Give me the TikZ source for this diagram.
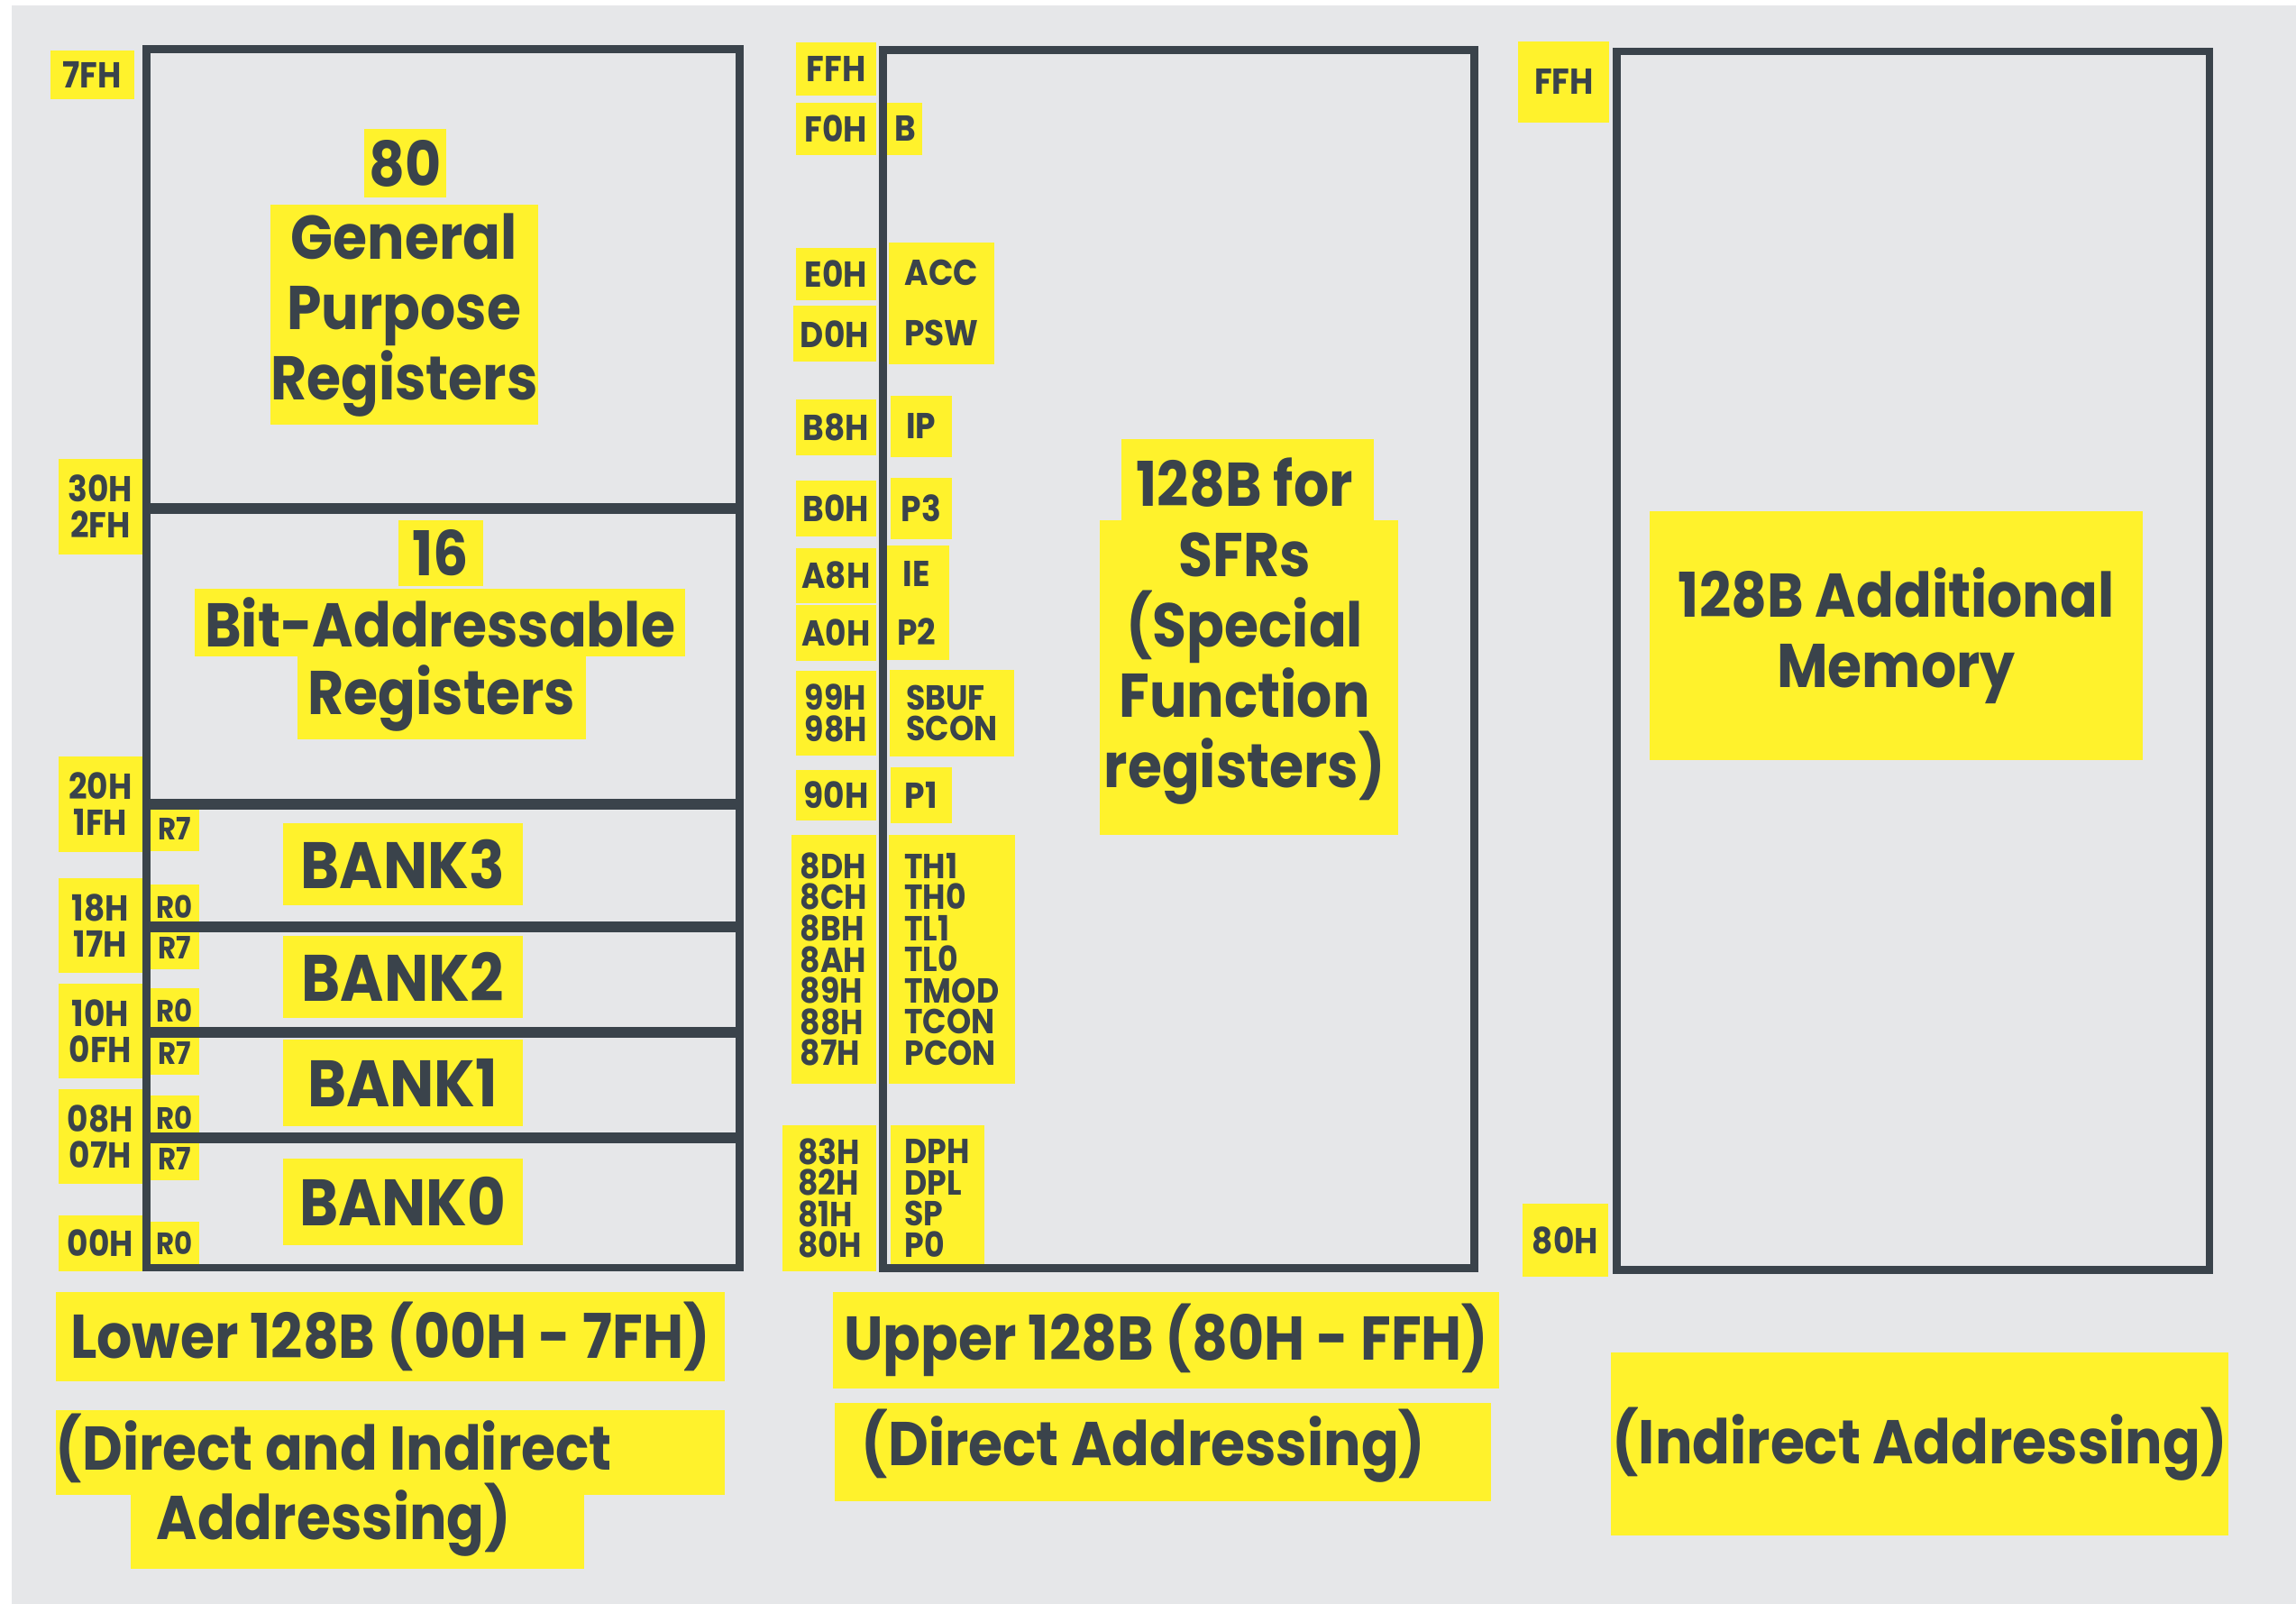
\documentclass[tikz,border=0pt]{standalone}
\usepackage{fontspec}
\setmainfont{Poppins}[FakeStretch=0.9]
\usetikzlibrary{positioning}
\definecolor{slate}{HTML}{3A434B}
\definecolor{hiyel}{HTML}{FFF22C}
\definecolor{paper}{HTML}{E6E7E9}

\begin{document}
\begin{tikzpicture}[x=0.02cm,y=-0.02cm,
  every node/.style={text=slate},
  sz/.style 2 args={minimum width=#1*0.02cm,minimum height=#2*0.02cm},
  hl/.style={fill=hiyel,inner sep=0pt,align=center},
  bigtxt/.style={inner sep=0pt,align=center,font=\fontsize{24}{27.3}\selectfont\bfseries},
  big/.style={hl,bigtxt},
  bank/.style={hl,font=\fontsize{25.5}{28}\selectfont\bfseries},
  hex/.style={hl,font=\fontsize{14}{14}\selectfont\bfseries},
  stack/.style={hl,align=left,font=\fontsize{13.5}{12.1}\selectfont\bfseries},
  reg/.style={hl,font=\fontsize{12}{12}\selectfont\bfseries},
  membox/.style={draw=slate,line width=3pt},
  split/.style={draw=slate,line width=4.2pt}]
 \fill[white] (0,0) rectangle (1568,1095);
 \fill[paper] (8,4) rectangle (1568,1095);

 % lower 128 bytes
 \node[hex,sz={57}{33}] (l7f) at (63,51) {7FH};
 \node[hex,sz={57}{65}] (l30) at (68.5,346) {30H\\2FH};
 \node[hex,sz={57}{65}] (l20) at (68.5,549) {20H\\1FH};
 \node[hex,sz={57}{65}] (l18) at (68.5,632) {18H\\17H};
 \node[hex,sz={57}{65}] (l10) at (68.5,704) {10H\\0FH};
 \node[hex,sz={57}{65}] (l08) at (68.5,776) {08H\\07H};
 \node[hex,sz={57}{38}] (l00) at (68.5,849) {00H};
 \foreach \y [count=\i] in {566,647,719,791}
   \node[reg,sz={34}{30}] (rs\i) at (119,\y) {R7};
 \foreach \y [count=\i] in {619,690,763,849}
   \node[reg,sz={34}{30}] (rz\i) at (119,\y) {R0};
 \node[big,sz={56}{47}] (n80) at (277,111.5) {80};
 \node[big,sz={172}{150}] (gpr) at (276,215) {General\\Purpose\\Registers};
 \node[big,sz={58}{45}] (n16) at (301,377.5) {16};
 \node[big,sz={335}{46}] (bitad) at (300.5,425) {Bit-Addressable};
 \node[big,sz={197}{57}] (bitreg) at (301.5,476.5) {Registers};
 \node[bank,sz={164}{56}] (bank3) at (275,590) {BANK3};
 \node[bank,sz={164}{56}] (bank2) at (275,667) {BANK2};
 \node[bank,sz={164}{59}] (bank1) at (275,739.5) {BANK1};
 \node[bank,sz={164}{59}] (bank0) at (275,820.5) {BANK0};

 % upper 128 bytes (SFRs)
 \node[hex,sz={55}{36}] (uff) at (571,47) {FFH};
 \node[hex,sz={55}{36}] (uf0) at (571,88) {F0H};
 \node[hex,sz={24}{36}] (rb) at (618,88) {B};
 \node[hex,sz={55}{36}] (ue0) at (571,187) {E0H};
 \node[hex,sz={57}{38}] (ud0) at (570,228) {D0H};
 \node[hex,sz={72}{41}] (racc) at (643,186) {ACC};
 \node[hex,sz={72}{43}] (rpsw) at (643,227.5) {PSW};
 \node[hex,sz={55}{38}] (ub8) at (571,292) {B8H};
 \node[hex,sz={42}{42}] (rip) at (629,291) {IP};
 \node[hex,sz={55}{38}] (ub0) at (571,347) {B0H};
 \node[hex,sz={42}{42}] (rp3) at (629,347) {P3};
 \node[hex,sz={55}{38}] (ua8) at (571,393) {A8H};
 \node[hex,sz={55}{38}] (ua0) at (571,432) {A0H};
 \node[hex,sz={44}{39}] (rie) at (626,392) {IE};
 \node[hex,sz={44}{39}] (rp2) at (626,431) {P2};
 \node[stack,sz={55}{58}] (u99) at (571,487) {99H\\98H};
 \node[stack,sz={85}{59}] (rsbuf) at (650,487) {SBUF\\SCON};
 \node[hex,sz={55}{35}] (u90) at (571,543) {90H};
 \node[hex,sz={42}{38}] (rp1) at (629,543) {P1};
 \node[stack,sz={58}{170}] (u8d) at (569.5,655) {8DH\\8CH\\8BH\\8AH\\89H\\88H\\87H};
 \node[stack,sz={86}{170}] (rth) at (650,655) {TH1\\TH0\\TL1\\TL0\\TMOD\\TCON\\PCON};
 \node[stack,sz={64}{100}] (u83) at (566.5,818) {83H\\82H\\81H\\80H};
 \node[stack,sz={64}{100}] (rdph) at (640,818) {DPH\\DPL\\SP\\P0};
 \node[hl,sz={172}{55}] (sfrtop) at (852,327.5) {};
 \node[hl,sz={204}{215}] (sfrbot) at (853,462.5) {};
 \node[bigtxt] (sfr) at (850,431) {128B for\\SFRs\\(Special\\Function\\registers)};

 % additional 128 bytes
 \node[hex,sz={62}{55}] (rff) at (1068,56) {FFH};
 \node[hex,sz={58}{50}] (r80) at (1069,847) {80H};
 \node[big,sz={337}{170}] (addmem) at (1295,434) {128B Additional\\Memory};

 % captions
 \node[big,sz={457}{61}] (lowcap) at (266.5,912.5) {Lower 128B (00H - 7FH)};
 \node[hl,sz={457}{58}] (lowbg) at (266.5,992) {};
 \node[hl,sz={310}{50}] (lowbg2) at (244,1046) {};
 \node[bigtxt] (lowmode) at (228,1014) {(Direct and Indirect\\Addressing)};
 \node[big,sz={455}{66}] (upcap) at (796.5,915) {Upper 128B (80H - FFH)};
 \node[hl,sz={448}{67}] (upbg) at (794,991.5) {};
 \node[bigtxt] (upmode) at (781,987) {(Direct Addressing)};
 \node[big,sz={422}{125}] (indmode) at (1311,986) {(Indirect Addressing)};

 % memory outlines
 \node[membox,sz={405}{832}] (lowmem) at (302.5,449.5) {};
 \node[membox,sz={404}{832}] (upmem) at (805,450) {};
 \node[membox,sz={405}{832}] (extmem) at (1306.5,451) {};
 \foreach \y in {347,549,633,705,777}
   \draw[split] (lowmem.west |- 0,\y) -- (lowmem.east |- 0,\y);
\end{tikzpicture}
\end{document}
